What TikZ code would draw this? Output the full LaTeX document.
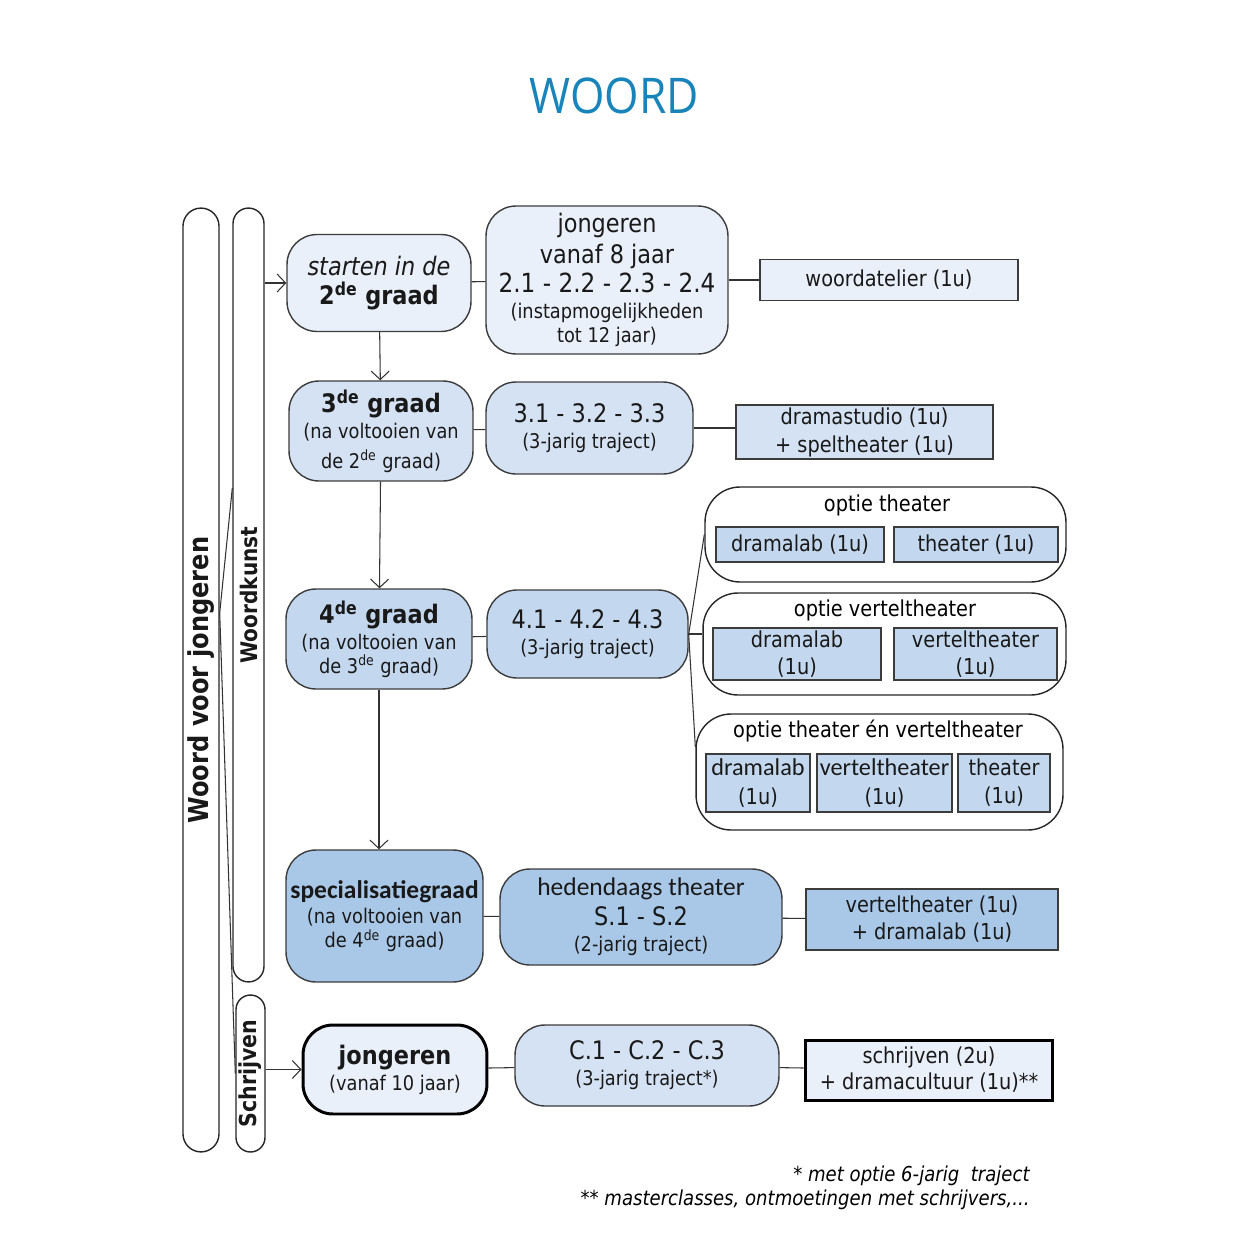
\documentclass[tikz,border=0pt]{standalone}
\usepackage{fontspec}
\usepackage{graphicx}
\setmainfont{DejaVu Sans}[FakeStretch=0.88]
\newfontfamily\calibri{Carlito}
\newfontfamily\titelfont{Open Sans}
\usetikzlibrary{positioning,arrows.meta}

\definecolor{titelblauw}{RGB}{24,132,186}
\definecolor{blauwA}{RGB}{233,240,250}
\definecolor{blauwB}{RGB}{213,226,243}
\definecolor{blauwC}{RGB}{195,216,239}
\definecolor{blauwD}{RGB}{169,200,232}
\definecolor{rand}{RGB}{60,60,60}

\newcommand\groot{\fontsize{14.5}{16}\selectfont}
\newcommand\middel{\fontsize{12.5}{16}\selectfont}
\newcommand\klein{\fontsize{11.5}{16}\selectfont}
\newcommand\smal{\calibri\fontsize{14.5}{16}\selectfont}
\newcommand\smalk{\calibri\fontsize{13.8}{16}\selectfont}
\newcommand\sde{\textsuperscript{de}}

\begin{document}
\begin{tikzpicture}[x=0.02cm,y=-0.02cm,>={Straight Barb[length=1.7mm,width=3.6mm]},
	round/.style={rounded corners=6mm,draw=rand,line width=0.8pt,align=center,inner sep=0pt,text=black!90,font=\groot},
	rect/.style={draw=rand,line width=0.8pt,align=center,inner sep=0pt,text=black!90,font=\middel},
	optie/.style={rounded corners=7mm,draw=black!85,line width=0.8pt,fill=white,inner sep=0pt},
	bar/.style={draw=black!85,line width=0.8pt,inner sep=0pt,fill=white,text=black!90},
	thick box/.style={draw=black,line width=1.7pt},
	conn/.style={line width=0.6pt,draw=black!80}]

	\useasboundingbox (0,0) rectangle (1250,1240);

	\node (titel) at (614,96) {\titelfont\color{titelblauw}\scalebox{0.9}[1]{\fontsize{28}{30}\selectfont WOORD}};

	% linkerbalken
	\node[bar,rounded corners=3.6mm,minimum width=0.72cm,minimum height=18.88cm] (vj) at (201,680) {\rotatebox{90}{\fontsize{15.6}{18}\selectfont\bfseries Woord voor jongeren}};
	\node[bar,rounded corners=3.1mm,minimum width=0.62cm,minimum height=15.48cm] (wk) at (248.5,595) {\rotatebox{90}{\fontsize{13}{15}\selectfont\bfseries Woordkunst}};
	\node[bar,rounded corners=2.9mm,minimum width=0.58cm,minimum height=3.14cm] (sch) at (250.5,1073.5) {\rotatebox{90}{\fontsize{13.3}{15}\selectfont\bfseries Schrijven}};
	\draw[conn] ([yshift=1.34cm]vj.east) -- ([yshift=2.14cm]wk.west);
	\draw[conn] ([yshift=1.34cm]vj.east) -- (sch.west);

	% 2de graad
	\node[round,fill=blauwA,minimum width=3.68cm,minimum height=1.94cm] (starten) at (379,283) {\groot\itshape starten in de\\[0.4pt]\groot\bfseries 2\sde\ graad};
	\node[round,fill=blauwA,minimum width=4.84cm,minimum height=2.96cm] (jong8) at (607,280) {\groot jongeren\\[1.6pt]\groot vanaf 8 jaar\\[0.4pt]\fontsize{15}{16}\selectfont 2.1 - 2.2 - 2.3 - 2.4\\[-1.3pt]\klein (instapmogelijkheden\\[-2.4pt]\klein tot 12 jaar)};
	\node[rect,fill=blauwA,minimum width=5.16cm,minimum height=0.82cm] (atelier) [right of=jong8, node distance=5.64cm] {\middel woordatelier (1u)};
	\draw[conn,->] (wk.east |- starten) -- (starten);
	\draw[conn] (starten) -- (jong8);
	\draw[conn] (jong8) -- (atelier);

	% 3de graad
	\node[round,fill=blauwB,minimum width=3.68cm,minimum height=2.0cm] (graad3) at (381,431) {\groot\bfseries 3\sde\ graad\\[-1.3pt]\klein (na voltooien van\\[1pt]\klein de 2\sde\ graad)};
	\node[round,fill=blauwB,minimum width=4.14cm,minimum height=1.84cm] (drie) at (589.5,428) {\groot 3.1 - 3.2 - 3.3\\[-1.3pt]\klein (3-jarig traject)};
	\node[rect,fill=blauwB,minimum width=5.14cm,minimum height=1.08cm] (studio) at (864.5,432) {\middel dramastudio (1u)\\\middel + speltheater (1u)};
	\draw[conn,->] (starten) -- (graad3);
	\draw[conn] (graad3) -- (drie);
	\draw[conn] (drie.east) -- (studio.west |- drie.east);

	% 4de graad
	\node[round,fill=blauwC,minimum width=3.72cm,minimum height=2.0cm] (graad4) at (379,639) {\groot\bfseries 4\sde\ graad\\[-1.3pt]\klein (na voltooien van\\[-2.4pt]\klein de 3\sde\ graad)};
	\node[round,fill=blauwC,minimum width=4.02cm,minimum height=1.76cm] (vier) at (587.5,634) {\groot 4.1 - 4.2 - 4.3\\[-1.3pt]\klein (3-jarig traject)};
	\draw[conn,->] (graad3) -- (graad4);
	\draw[conn] (graad4) -- (vier);

	\node[optie,minimum width=7.22cm,minimum height=1.9cm] (opt1) at (885.5,534.5) {};
	\node[font=\middel] (opt1t) at (887,505) {optie theater};
	\node[rect,fill=blauwC,minimum width=3.36cm,minimum height=0.7cm] (o1a) at (800,544.5) {dramalab (1u)};
	\node[rect,fill=blauwC,minimum width=3.28cm,minimum height=0.7cm] (o1b) at (976,544.5) {theater (1u)};

	\node[optie,minimum width=7.26cm,minimum height=2.04cm] (opt2) at (884.5,644) {};
	\node[font=\middel] (opt2t) at (885,610) {optie verteltheater};
	\node[rect,fill=blauwC,minimum width=3.36cm,minimum height=1.04cm] (o2a) at (797,654) {\middel dramalab\\[-0.7pt]\middel (1u)};
	\node[rect,fill=blauwC,minimum width=3.26cm,minimum height=1.04cm] (o2b) at (975.5,654) {\middel verteltheater\\[-0.7pt]\middel (1u)};

	\node[optie,minimum width=7.34cm,minimum height=2.32cm] (opt3) at (879.5,772) {};
	\node[font=\middel] (opt3t) at (878,731) {optie theater én verteltheater};
	\node[rect,fill=blauwC,minimum width=2.08cm,minimum height=1.16cm] (o3a) at (758,783) {\smalk dramalab\\\middel (1u)};
	\node[rect,fill=blauwC,minimum width=2.7cm,minimum height=1.16cm] (o3b) at (884.5,783) {\smalk verteltheater\\\middel (1u)};
	\node[rect,fill=blauwC,minimum width=1.84cm,minimum height=1.16cm] (o3c) at (1004,783) {\middel theater\\\middel (1u)};

	\draw[conn] (vier.east) -- (opt1.west);
	\draw[conn] (vier.east) -- (vier.east -| opt2.west);
	\draw[conn] (vier.east) -- ([yshift=0.5cm]opt3.west);

	% specialisatiegraad
	\node[round,fill=blauwD,minimum width=3.94cm,minimum height=2.64cm] (spec) at (384.5,916) {\smal\bfseries specialisatiegraad\\[-1.3pt]\klein (na voltooien van\\[-2.4pt]\klein de 4\sde\ graad)};
	\node[round,fill=blauwD,minimum width=5.64cm,minimum height=1.92cm] (heden) at (641,917) {\smal hedendaags theater\\[1pt]\groot S.1 - S.2\\[-1.3pt]\klein (2-jarig traject)};
	\node[rect,fill=blauwD,minimum width=5.04cm,minimum height=1.22cm] (vt) at (932,919.5) {\middel verteltheater (1u)\\[-0.7pt]\middel + dramalab (1u)};
	\draw[conn,->] (graad4.south) -- (graad4.south |- spec.north);
	\draw[conn] (spec) -- (heden);
	\draw[conn] (heden) -- (vt);

	% schrijven
	\node[round,thick box,fill=blauwA,minimum width=3.68cm,minimum height=1.78cm] (jong10) at (395,1069.5) {\groot\bfseries jongeren\\[-1.3pt]\klein (vanaf 10 jaar)};
	\node[round,fill=blauwB,minimum width=5.28cm,minimum height=1.62cm] (C) at (647,1065.5) {\groot C.1 - C.2 - C.3\\[-1.3pt]\klein (3-jarig traject*)};
	\node[rect,thick box,fill=blauwA,minimum width=4.96cm,minimum height=1.2cm] (schr) at (929,1070) {\middel schrijven (2u)\\[-1.3pt]\middel + dramacultuur (1u)**};
	\draw[conn,->] (sch.east |- jong10) -- (jong10);
	\draw[conn] (jong10) -- (C);
	\draw[conn] (C) -- (schr);

	\node[anchor=east,inner sep=0pt,font=\fontsize{11.7}{13}\selectfont\itshape] (noot1) at (1030,1176) {* met optie 6-jarig\ \ traject};
	\node[anchor=east,inner sep=0pt,font=\fontsize{11.7}{13}\selectfont\itshape] (noot2) at (1030,1200) {** masterclasses, ontmoetingen met schrijvers,...};

\end{tikzpicture}
\end{document}
